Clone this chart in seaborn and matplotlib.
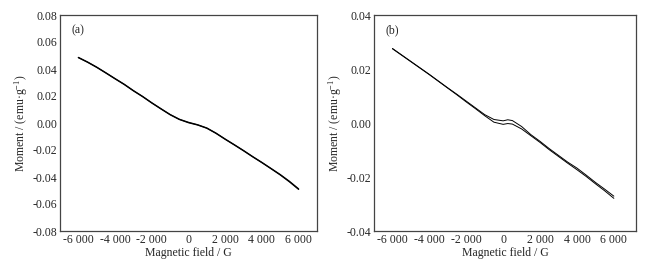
import numpy as np
import pandas as pd
import matplotlib
matplotlib.use("Agg")
import matplotlib.pyplot as plt
from matplotlib.ticker import MultipleLocator, FuncFormatter
import seaborn as sns

# ---------------- data ----------------
field = [-6000, -5500, -5000, -4500, -4000, -3500, -3000, -2500, -2000, -1500,
         -1000, -500, 0, 500, 1000, 1500, 2000, 2500, 3000, 3500, 4000, 4500,
         5000, 5500, 6000]

# panel (a): two nearly overlapping branches
a_desc = [0.0486, 0.0452, 0.0414, 0.0372, 0.0329, 0.0287, 0.0240, 0.0197, 0.0150,
          0.0106, 0.0063, 0.0028, 0.0005, -0.0013, -0.0037, -0.0075, -0.0119,
          -0.0161, -0.0204, -0.0249, -0.0292, -0.0337, -0.0382, -0.0432, -0.0488]
a_asc = [0.0484, 0.0450, 0.0412, 0.0370, 0.0327, 0.0285, 0.0238, 0.0195, 0.0148,
         0.0104, 0.0061, 0.0026, 0.0002, -0.0015, -0.0039, -0.0077, -0.0121,
         -0.0163, -0.0206, -0.0251, -0.0294, -0.0339, -0.0385, -0.0436, -0.0492]

# panel (b): small hysteresis near zero field
field_b = [-6000, -5500, -5000, -4500, -4000, -3500, -3000, -2500, -2000, -1500,
           -1000, -500, 0, 250, 500, 1000, 1500, 2000, 2500, 3000, 3500, 4000,
           4500, 5000, 5500, 6000]
b_upper = [0.0276, 0.0252, 0.0228, 0.0204, 0.0180, 0.0155, 0.0130, 0.0106, 0.0081,
           0.0056, 0.0031, 0.0013, 0.0008, 0.0012, 0.0009, -0.0013, -0.0043,
           -0.0068, -0.0095, -0.0120, -0.0145, -0.0167, -0.0193, -0.0220, -0.0245,
           -0.0271]
b_lower = [0.0275, 0.0251, 0.0227, 0.0203, 0.0179, 0.0154, 0.0129, 0.0104, 0.0078,
           0.0053, 0.0027, 0.0003, -0.0005, -0.0002, -0.0004, -0.0022, -0.0047,
           -0.0072, -0.0099, -0.0124, -0.0149, -0.0173, -0.0198, -0.0225, -0.0251,
           -0.0279]

x_ticks = [-6000, -4000, -2000, 0, 2000, 4000, 6000]

# ---------------- style ----------------
sns.set_style("white")
plt.rcParams["font.family"] = ["Liberation Serif", "DejaVu Serif"]
plt.rcParams["mathtext.fontset"] = "custom"
plt.rcParams["mathtext.rm"] = "Liberation Serif"
plt.rcParams["mathtext.it"] = "Liberation Serif:italic"
plt.rcParams["font.size"] = 8.5

fig = plt.figure(figsize=(6.45, 2.64), dpi=100)
ax1 = fig.add_axes([60 / 645, 33 / 264, 257 / 645, 216 / 264])
ax2 = fig.add_axes([374 / 645, 33 / 264, 262 / 645, 216 / 264])

df_a = pd.DataFrame({
    "H": field + field,
    "M": a_desc + a_asc,
    "branch": ["d"] * len(field) + ["a"] * len(field),
})
df_b = pd.DataFrame({
    "H": field_b + field_b,
    "M": b_upper + b_lower,
    "branch": ["u"] * len(field_b) + ["l"] * len(field_b),
})

sns.lineplot(data=df_a, x="H", y="M", units="branch", estimator=None,
             color="black", lw=0.9, ax=ax1, sort=False)
sns.lineplot(data=df_b, x="H", y="M", units="branch", estimator=None,
             color="black", lw=0.7, ax=ax2, sort=False)


def thousands(v, pos):
    s = f"{abs(int(round(v))):,}".replace(",", " ")
    return ("-" if v < 0 else "") + s


for ax, ylim, label, xr in ((ax1, (-0.08, 0.08), "(a)", (-7000, 7000)),
                            (ax2, (-0.04, 0.04), "(b)", (-7000, 7200))):
    ax.set_xlim(*xr)
    ax.set_ylim(*ylim)
    ax.set_xticks(x_ticks)
    ax.xaxis.set_minor_locator(MultipleLocator(1000))
    ax.yaxis.set_major_locator(MultipleLocator(0.02))
    ax.yaxis.set_minor_locator(MultipleLocator(0.01))
    ax.xaxis.set_major_formatter(FuncFormatter(thousands))
    ax.yaxis.set_major_formatter(FuncFormatter(lambda v, p: f"{v:.2f}"))
    ax.tick_params(which="both", direction="in", top=False, right=False,
                   color="#333333", width=0.8, labelsize=8.5, pad=2)
    ax.tick_params(which="major", length=3)
    ax.tick_params(which="minor", length=1.5)
    for sp in ax.spines.values():
        sp.set_color("#444444")
        sp.set_linewidth(0.9)
    ax.set_xlabel("Magnetic field / G", fontsize=8.5, labelpad=1)
    ax.set_ylabel("Moment / (emu·g$^{-1}$)", fontsize=8.5, labelpad=2)
    ax.text(0.045, 0.955, label, transform=ax.transAxes, fontsize=8.5,
            ha="left", va="top")

fig.savefig("out.png", dpi=100)
